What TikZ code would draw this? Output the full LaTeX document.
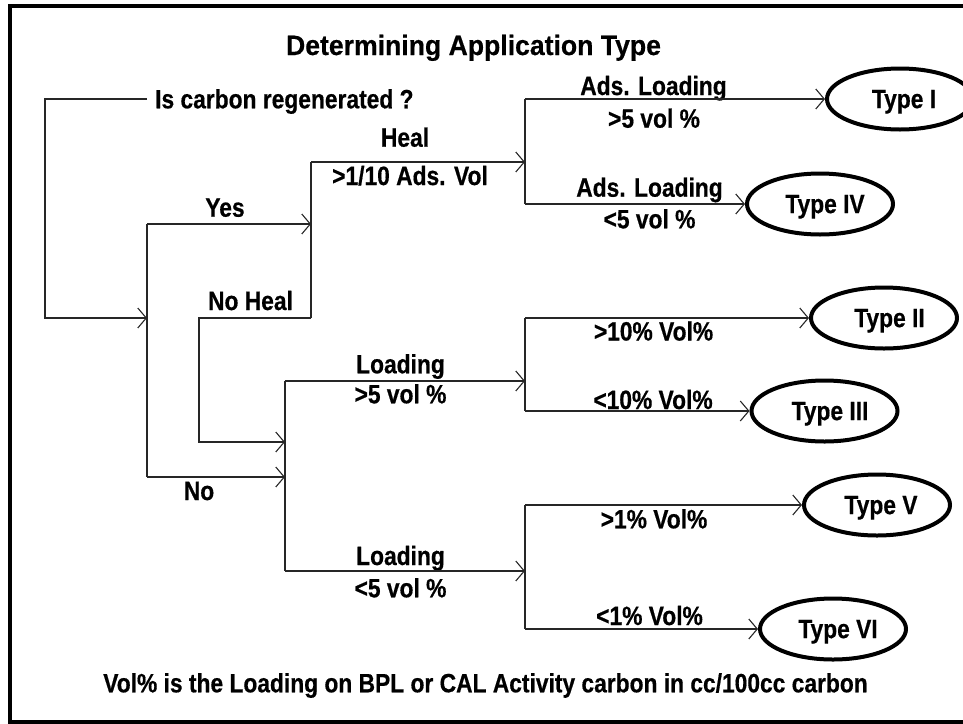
\documentclass[tikz,border=0pt]{standalone}
\usepackage{fontspec}
\setmainfont{Liberation Sans}[FakeStretch=0.86, BoldFeatures={FakeBold=0.5}]
\newfontfamily\ttlfont{Liberation Sans}[FakeStretch=0.95, BoldFeatures={FakeBold=0.5}]
\usetikzlibrary{shapes.geometric,arrows.meta}
\begin{document}
\begin{tikzpicture}[x=1pt,y=-1pt,
  conn/.style={line width=1.2pt, draw=black!85},
  arr/.style={conn, -{Straight Barb[length=8.5pt,width=20pt,line width=1.1pt]}},
  lbl/.style={inner sep=0pt, anchor=base, font=\fontsize{26.5}{30}\selectfont\bfseries},
  typeell/.style={ellipse, draw, line width=4pt, minimum width=146pt, minimum height=61pt,
                  inner sep=0pt, text depth=0pt, font=\fontsize{26.5}{30}\selectfont\bfseries}]
\useasboundingbox (0,0) rectangle (963,723);
\clip (0,0) rectangle (963,723);
\draw[line width=4pt] (10,6) rectangle (990,721.5);

% title and labels
\node[lbl, font=\ttlfont\bfseries\fontsize{28}{32}\selectfont] (title) at (473.5,55) {Determining Application Type};
\node[lbl, anchor=base west] (q) at (155,108.3) {Is carbon regenerated ?};
\node[lbl] (heal) at (405,146.7) {Heal};
\node[lbl, anchor=base west] (adsvol) at (332,185) {>1/10 Ads. Vol};
\node[lbl] (yes) at (225,216.7) {Yes};
\node[lbl] (noheal) at (250.5,310) {No Heal};
\node[lbl] (no) at (199,500) {No};
\node[lbl] (ld1) at (400.5,373.3) {Loading};
\node[lbl] (ld1v) at (400.5,403.3) {>5 vol \%};
\node[lbl] (ld2) at (400.5,565) {Loading};
\node[lbl] (ld2v) at (400.5,597.3) {<5 vol \%};
\node[lbl] (al1) at (653.5,95) {Ads. Loading};
\node[lbl] (al1v) at (654,127.7) {>5 vol \%};
\node[lbl] (al2) at (649.5,196.7) {Ads. Loading};
\node[lbl] (al2v) at (649.5,228.3) {<5 vol \%};
\node[lbl] (v10a) at (653.5,340.5) {>10\% Vol\%};
\node[lbl] (v10b) at (653,409) {<10\% Vol\%};
\node[lbl] (v1a) at (654,528.3) {>1\% Vol\%};
\node[lbl] (v1b) at (649.5,625) {<1\% Vol\%};
\node[lbl] (foot) at (485.5,692.3) {Vol\% is the Loading on BPL or CAL Activity carbon in cc/100cc carbon};

% outcome ellipses
\node[typeell] (t1) at (900,99) {\hspace*{8pt}Type I};
\node[typeell] (t4) at (820,204) {\hspace*{10pt}Type IV};
\node[typeell] (t2) at (884,318) {\hspace*{11pt}Type II};
\node[typeell] (t3) at (824.5,411) {\hspace*{11pt}Type III};
\node[typeell] (t5) at (877,505) {\hspace*{8pt}Type V};
\node[typeell] (t6) at (833,629) {\hspace*{10pt}Type VI};

% junction points
\coordinate (q0) at (147,99);
\coordinate (lft) at (45,99);
\coordinate (j1) at (147,318);
\coordinate (j1t) at (147,224);
\coordinate (j1b) at (147,477);
\coordinate (j2) at (311,224);
\coordinate (j2t) at (311,162);
\coordinate (j2b) at (311,318);
\coordinate (nhc) at (199,318);
\coordinate (j3a) at (285,442);
\coordinate (j3b) at (285,477);
\coordinate (j3t) at (285,381);
\coordinate (j3bb) at (285,571);
\coordinate (j4) at (525,162);
\coordinate (j4t) at (525,99);
\coordinate (j4b) at (525,204);
\coordinate (j5) at (525,381);
\coordinate (j5t) at (525,318);
\coordinate (j5b) at (525,411);
\coordinate (j6) at (525,571);
\coordinate (j6t) at (525,505);
\coordinate (j6b) at (525,629);

% connectors
\draw[arr] (q0) -- (lft) |- (j1);
\draw[conn] (j1t) -- (j1b);
\draw[arr] (j1t) -- (j2);
\draw[arr] (j1b) -- (j3b);
\draw[conn] (j2t) -- (j2b);
\draw[arr] (j2t) -- (j4);
\draw[arr] (j2b) -- (nhc) |- (j3a);
\draw[conn] (j4t) -- (j4b);
\draw[arr] (j4t) -- (t1.west);
\draw[arr] (j4b) -- (t4.west);
\draw[conn] (j3t) -- (j3bb);
\draw[arr] (j3t) -- (j5);
\draw[arr] (j3bb) -- (j6);
\draw[conn] (j5t) -- (j5b);
\draw[arr] (j5t) -- (t2.west);
\draw[arr] (j5b) -- (t3.west);
\draw[conn] (j6t) -- (j6b);
\draw[arr] (j6t) -- (t5.west);
\draw[arr] (j6b) -- (t6.west);
\end{tikzpicture}
\end{document}
